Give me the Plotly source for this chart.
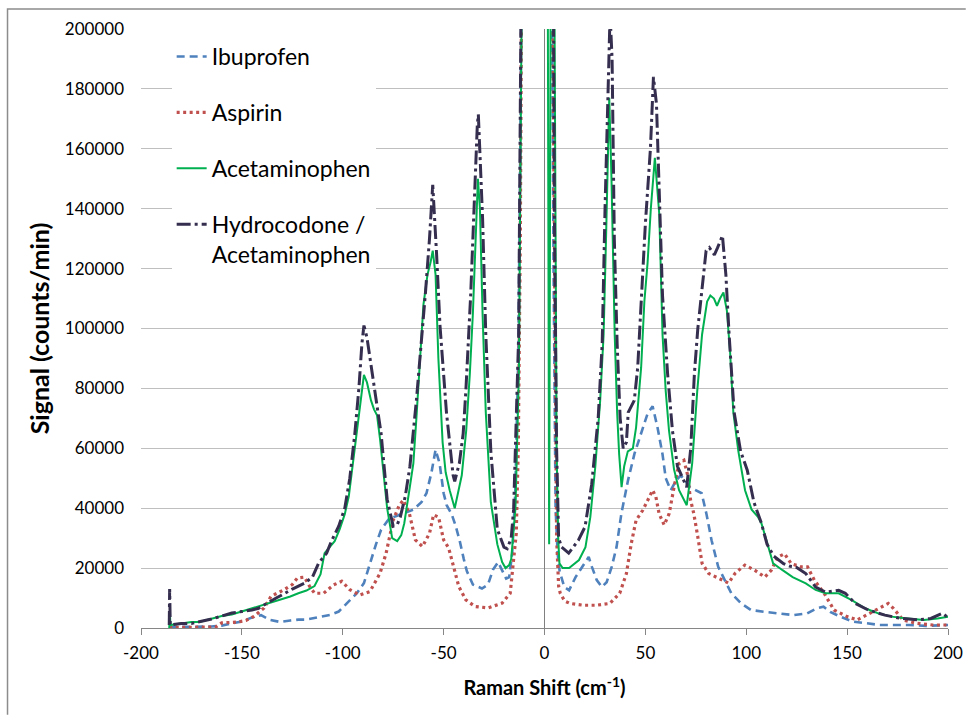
import plotly.graph_objects as go

# Raman spectra, signal in thousands of counts/min
ibu_shift = [-186, -175, -165, -160, -155, -150, -145, -140.5, -136, -131, -126, -122, -118, -114, -110,
             -106, -102, -99.5, -96, -93, -89.5, -86, -83.5, -81, -77, -73, -69, -65, -61, -58.5, -56,
             -54, -52, -50, -48.5, -46, -44, -42, -40, -38.5, -35.5, -31, -28, -25.5, -23, -21, -19,
             -17.5, -16, -14.5, -13, -12, -11, 0, 3, 4.5, 5.5, 6.5, 7.5, 9.8, 12.2, 15.4, 18.6, 21.9,
             23.5, 25.9, 28.4, 30.8, 33.3, 35.7, 38.1, 41.4, 44.6, 47.9, 51.1, 53.6, 56, 58.5, 60.1,
             62.6, 65, 67.5, 70, 72, 74.6, 77.9, 80.3, 82.8, 86.1, 89.3, 92.6, 97.5, 102.4, 108.9,
             115.5, 123.6, 130.2, 135, 138.3, 141.6, 146.5, 153, 159.6, 166, 172.7, 180.8, 189, 200]
ibu_signal = [0.3, 0.3, 0.5, 0.8, 1.5, 2.2, 3.5, 4.3, 2.7, 2.0, 2.5, 2.8, 2.8, 3.3, 3.8,
              4.4, 5.5, 7.2, 9.5, 11.6, 15, 22.8, 28, 32.8, 36.5, 37.5, 38.5, 39.5, 42, 45, 52,
              59.5, 55, 45, 41, 38, 34, 29, 23, 19, 14.5, 13.2, 14.5, 19.5, 22, 19, 16.5,
              17, 25, 45, 90, 160, 260, 500, 300, 120, 40, 25, 19, 13.7, 12.6, 17, 20.4, 23.7,
              20.4, 16, 13.7, 15.3, 20.4, 27, 38.2, 49.3, 58.2, 64.9, 71.6, 74, 67, 58, 50,
              46, 49, 51, 49, 47, 46, 45, 38, 29.3, 20.4, 16, 11.6, 8.2, 6, 5.4,
              4.9, 4.3, 4.9, 6.6, 7.1, 5.4, 3.8, 2.1, 1.6, 1.0, 1.0, 1.0, 0.7, 1.0]

asp_shift = [-186, -175, -163, -160, -152, -148, -144, -139, -135.5, -129, -125, -122.5, -119, -116.5,
             -114, -109.5, -104.5, -100.5, -96.5, -91.5, -86.5, -81.5, -78.5, -75, -72, -70, -67, -64,
             -60.5, -57, -55, -52.5, -50, -47.5, -45, -42.5, -39, -34.5, -28, -21, -17, -15.5, -14,
             -13, -12, -11, 0, 3, 5, 6, 7, 7.8, 10, 12.7, 19.3, 25.8, 32.4, 37.3, 40.6, 43, 45.4,
             48.7, 52, 53.6, 55.2, 56.8, 59.3, 61.8, 64.2, 66.7, 69.1, 70.8, 72.4, 74, 75.7, 78.1,
             81.4, 86.3, 91.2, 94.4, 99.3, 104.2, 109.2, 112.4, 115.7, 119, 122.2, 127.2, 130.4,
             133.7, 138.6, 143.5, 150, 155, 161.5, 166.3, 170.4, 172.9, 177.7, 184.3, 192.4, 200]
asp_signal = [0.2, 0.2, 0.3, 1.7, 2.0, 2.5, 3.9, 6.7, 10.6, 12.8, 14.5, 16.7, 17, 14,
              11.6, 11.6, 14.4, 15.6, 12.8, 11, 12.2, 18.3, 25, 36, 41, 42.7, 38.3, 29.4,
              27.2, 31.6, 37.8, 37, 29.4, 26.7, 20.5, 13.9, 9.4, 7.2, 6.7, 8.3, 11.6, 20.5, 31.6,
              60, 130, 260, 500, 300, 100, 30, 14, 11.6, 9, 8.2, 7.6, 7.6, 8.2, 11.6, 18.2, 28.2, 36,
              39.3, 43.8, 46, 43.8, 38.2, 34.4, 38.2, 47, 54.9, 56, 51.5, 42.7, 38.2, 31.6, 21.6,
              18.2, 16.5, 15, 18.2, 21, 19.3, 17, 19.3, 23.7, 24.8, 21.5, 20.4, 20.4,
              16, 11.6, 6, 3.8, 2.7, 4.9, 6.6, 8.2, 6.6, 2.7, 1.6, 1.0, 1.0]

acet_shift = [-186, -185.7, -185.4, -180, -175, -171, -165, -160, -155, -150, -145, -140, -135, -130,
              -126, -122, -118, -114, -111, -109, -106, -104, -101.5, -99, -97, -94.5, -92, -90.5,
              -89.5, -88, -86, -84.5, -83, -81.5, -80, -78, -75.5, -73, -71, -69.5, -67, -65, -63.5,
              -61.5, -60, -58, -56.5, -55.4, -54, -52.6, -50.5, -49, -47, -44.5, -42.5, -41, -38.8,
              -37, -35.5, -34, -33, -32, -30.7, -29.1, -26.6, -23.4, -21, -19.3, -17.5, -16.5, -14.4,
              -12.7, -11.5, -10.5, 0, 1.5, 2.3, 3.2, 5, 6, 6.8, 7.4, 9, 12.2, 17.1, 20.3, 22.7, 25.2,
              27.6, 29.3, 30.5, 31.5, 32.1, 33.2, 34.8, 36, 37, 38.2, 39.5, 41.3, 43.8, 45.4, 47.9,
              49.5, 51.1, 52.7, 54.7, 56.9, 58.5, 60.1, 61.7, 64.2, 66.7, 70.5, 73.2, 75.7, 78.1,
              80.6, 82.2, 84, 85.5, 87, 88.7, 90.4, 92, 93.6, 96.1, 99.4, 102.6, 105.9, 107.5, 110,
              113.3, 118, 123, 129.5, 134.4, 139.3, 145.8, 152.3, 158.9, 165.4, 171.9, 180, 188,
              194.8, 200]
acet_signal = [0, 5, 1, 1.5, 2, 2, 3, 4, 4.5, 5.5, 6.5, 7.5, 8.5, 9.5,
               10.5, 11.6, 12.5, 14, 18, 25, 27.5, 29, 33, 38, 44, 58, 72, 80,
               84.5, 82, 76, 73, 71, 63, 54, 40, 30, 29, 31, 35, 46, 55, 70,
               90, 108, 118, 122, 126, 118, 90, 62, 52, 46, 40, 46, 51, 66,
               85, 105, 135, 150, 140, 105, 72, 42, 28, 22, 20, 21, 23, 40,
               85, 200, 280, 500, 250, 28, 250, 200, 60, 30, 21.6, 20, 20, 22.7, 27, 37, 54,
               76, 98, 130, 165, 177, 150, 98, 72, 58, 47, 54, 59, 60, 67, 87,
               109, 122, 140, 157, 138, 98, 79, 66, 53, 46, 41, 55, 79, 98,
               109, 111, 110, 107.6, 110, 112, 106, 92, 72, 59, 46, 39.6, 37, 35, 29.3,
               21.6, 19.3, 17, 14.9, 12.7, 11.6, 11.6, 9.3, 6.6, 4.9, 3.8, 3.2, 2.7,
               3.2, 3.8]

hydro_shift = [-186, -185.8, -185.5, -180, -175, -171, -165, -160, -155, -150, -145, -141.7, -136, -133,
               -128.6, -125, -118.8, -115, -112, -108, -105.6, -102, -99, -96.5, -94, -92, -90.5,
               -89.5, -88, -86, -84, -81, -78, -75, -73, -71.5, -69, -66.7, -63.5, -61, -59, -57,
               -55.4, -53.5, -51.8, -48.6, -45.3, -44.5, -42.2, -40.3, -39, -36.6, -34.5, -33.3,
               -32.8, -31.5, -30.7, -29.1, -26.6, -23.4, -20.1, -18.5, -16.5, -15.3, -12.8, -11.5,
               -10.5, 0, 3, 5, 6, 7, 8.5, 12, 16.8, 20.1, 23.4, 26.6, 28.6, 30, 31.5, 32.5, 33.5,
               34.6, 36, 37.5, 39, 40.6, 41.5, 43, 44.5, 46.2, 48, 50, 52.5, 54, 55.5, 57, 58.5, 61,
               63.4, 65.9, 68.4, 70.5, 72.5, 74.3, 76, 77.6, 80.1, 81.7, 84.2, 85.8, 88.2, 89.9,
               91.5, 94, 97.2, 100.5, 103.8, 107.5, 110.3, 113.6, 118.5, 121.8, 124.6, 129.5, 134.4,
               139.3, 145.8, 149.1, 154, 160.5, 168.7, 176.8, 185, 191.5, 197.2, 200]
hydro_signal = [1, 13, 1, 1.5, 1.5, 2, 3, 4, 5, 5.5, 6, 6.6, 9, 10,
                11.6, 13, 15, 17, 21.6, 25, 29, 34, 40, 50, 65, 80, 95,
                101, 97, 88, 80, 65, 43, 34, 34.5, 37, 44, 54, 76, 95, 112, 130,
                148, 125, 101, 72, 51, 49, 55, 65, 79, 111, 150, 168,
                171.5, 150, 137, 98, 59, 33, 27, 26.5, 30, 39.6, 98, 220,
                300, 500, 400, 130, 60, 30, 27, 25, 29.3, 33.8, 48, 70, 95, 140, 185, 205, 190,
                130, 95, 70, 60, 62, 72, 74, 76, 87, 110, 135, 160, 184, 175, 140, 111, 85,
                66, 54, 50, 47, 60, 85, 100, 111, 126, 127, 124.6, 127, 131, 118,
                98, 72, 59, 52.7, 42, 35, 28, 24, 21.5, 20.6, 20.4, 18.2, 13.7,
                12, 12.6, 11.6, 8.2, 6, 4.3, 3.2, 2.7, 3.2, 4.9, 3.5]

x_ticks = [-200, -150, -100, -50, 0, 50, 100, 150, 200]
x_ticktext = ["-200", "-150", "-100", "-50", "0", "50", "100", "150", "200"]

FONT = "Lato, 'Open Sans', sans-serif"
AXIS_GRAY = "#868686"

series = [
    ("Ibuprofen", ibu_shift, ibu_signal, "#4F81BD", 2.6, "8px,5px"),
    ("Aspirin", asp_shift, asp_signal, "#C0504D", 3.2, "3px,3.5px"),
    ("Acetaminophen", acet_shift, acet_signal, "#00B050", 2.0, "solid"),
    ("Hydrocodone /<br>Acetaminophen", hydro_shift, hydro_signal, "#352E4F", 3.0, "14px,4px,3px,4px"),
]

fig = go.Figure()
for name, xs, ys, color, width, dash in series:
    fig.add_trace(go.Scatter(
        x=xs,
        y=[v * 1000 for v in ys],
        mode="lines",
        name=name,
        legendgroup=name,
        line=dict(color=color, width=width, dash=dash),
    ))

# chart frame: only its left and top edges fall inside the picture
FRAME = "M -0.1654,-0.145 L -0.1654,1.0334 L 1.022,1.0334"

fig.update_layout(
    width=975,
    height=715,
    paper_bgcolor="white",
    plot_bgcolor="white",
    margin=dict(l=141, r=18, t=29, b=87),
    font=dict(family=FONT, size=17, color="#000000"),
    legend=dict(
        x=0.038, y=0.99, xanchor="left", yanchor="top",
        bgcolor="white", font=dict(size=23), tracegroupgap=23,
        itemwidth=30, valign="top",
    ),
    shapes=[dict(
        type="path", xref="paper", yref="paper", path=FRAME,
        line=dict(color="#8c8c8c", width=1.5), layer="below",
    )],
)

fig.update_xaxes(
    range=[-200, 200],
    tickvals=x_ticks, ticktext=x_ticktext,
    ticks="outside", ticklen=6, tickcolor=AXIS_GRAY,
    showline=True, linecolor=AXIS_GRAY, linewidth=1,
    showgrid=False,
    zeroline=True, zerolinecolor="#808080", zerolinewidth=1,
    ticklabelstandoff=4,
    title=dict(text="<b>Raman Shift (cm<sup>-1</sup>)</b>", font=dict(size=20), standoff=18),
)
fig.update_yaxes(
    range=[0, 200000], dtick=20000, tickformat="d",
    showgrid=True, gridcolor="#BFBFBF", gridwidth=1,
    zeroline=False, ticks="", ticklabelstandoff=16,
    title=dict(text="<b>Signal (counts/min)</b>", font=dict(size=25), standoff=8),
)

# drop the default page margin/scrollbars so the figure fills the window exactly
fig.write_html(
    "out.html",
    config={"displayModeBar": False},
    post_script="document.body.style.margin='0';document.body.style.overflow='hidden';",
)
